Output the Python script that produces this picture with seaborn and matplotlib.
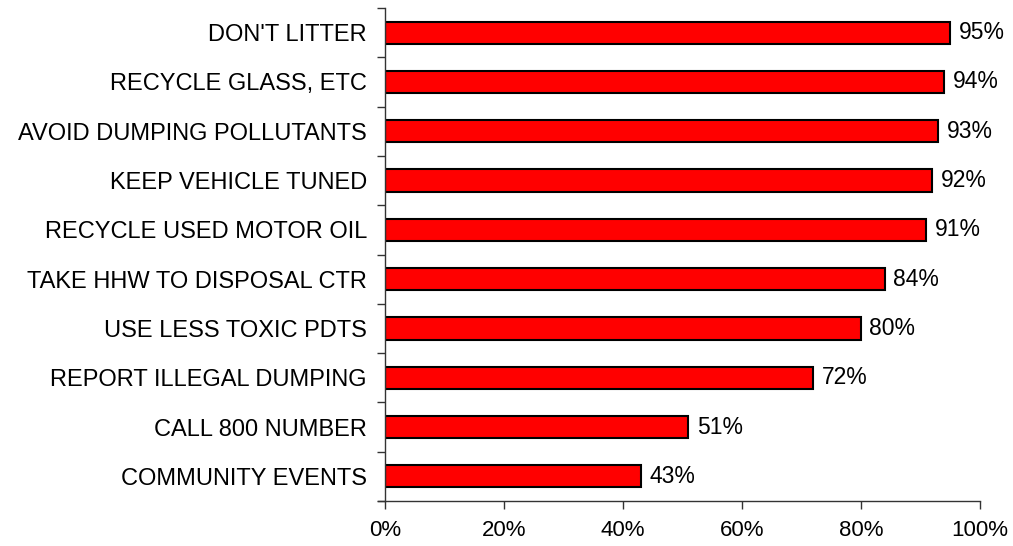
import matplotlib
matplotlib.use("Agg")
import matplotlib.pyplot as plt
import seaborn as sns
import pandas as pd
from matplotlib.ticker import FixedLocator, PercentFormatter

actions = ["DON'T LITTER", "RECYCLE GLASS, ETC", "AVOID DUMPING POLLUTANTS",
           "KEEP VEHICLE TUNED", "RECYCLE USED MOTOR OIL", "TAKE HHW TO DISPOSAL CTR",
           "USE LESS TOXIC PDTS", "REPORT ILLEGAL DUMPING", "CALL 800 NUMBER",
           "COMMUNITY EVENTS"]
percent = [95, 94, 93, 92, 91, 84, 80, 72, 51, 43]
xticks = [0, 20, 40, 60, 80, 100]

df = pd.DataFrame({"action": actions, "percent": percent})

sns.set_style("white")
plt.rcParams['font.family'] = ['Liberation Sans', 'DejaVu Sans']

fig = plt.figure(figsize=(10.13, 5.46), dpi=100)
ax = fig.add_axes([0.380, 0.0824, 0.5874, 0.9029])

sns.barplot(data=df, x="percent", y="action", orient="h", color="#ff0000",
            saturation=1, edgecolor="black", linewidth=1.5, width=0.45, ax=ax)

for i, v in enumerate(percent):
    ax.text(v + 1.4, i, f"{v}%", va="center", ha="left", fontsize=16.5, color="black")

ax.set_xlim(0, 100)
ax.set_ylim(len(actions) - 0.5, -0.5)
ax.set_xticks(xticks)
ax.xaxis.set_major_formatter(PercentFormatter(decimals=0))
ax.yaxis.set_major_locator(FixedLocator([i - 0.5 for i in range(len(actions) + 1)]))
ax.yaxis.set_minor_locator(FixedLocator(range(len(actions))))
ax.set_yticklabels([])
ax.set_yticklabels(actions, minor=True)
ax.tick_params(axis="y", which="major", direction="out", length=6, width=1, color="#333333", left=True)
ax.tick_params(axis="y", which="minor", length=0, labelsize=17, labelcolor="black", pad=13)
ax.tick_params(axis="x", direction="out", length=6, width=1, color="#333333", bottom=True,
               labelsize=16, labelcolor="black", pad=8)
ax.set_xlabel("")
ax.set_ylabel("")
for s in ["top", "right"]:
    ax.spines[s].set_visible(False)
for s in ["left", "bottom"]:
    ax.spines[s].set_color("#333333")
    ax.spines[s].set_linewidth(1)
ax.spines["bottom"].set_bounds(-1.2, 100)

fig.savefig("out.png", dpi=100)
